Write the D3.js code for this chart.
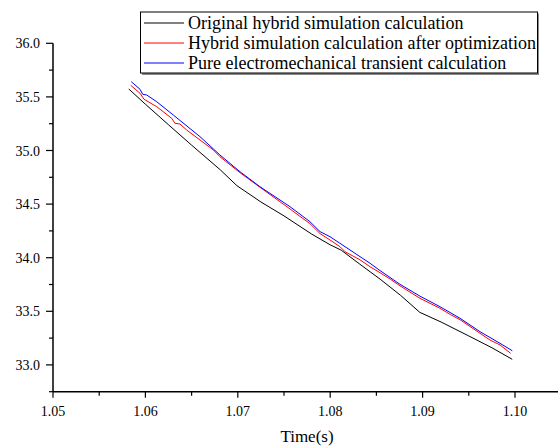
<!DOCTYPE html>
<html><head><meta charset="utf-8">
<script src="https://cdn.jsdelivr.net/npm/d3@7"></script>
<style>body{margin:0;background:#fff}svg{display:block}</style>
</head><body><svg id="c" width="558" height="447" font-family="'Liberation Serif', 'Times New Roman', serif"></svg>
<script>
const seriesNames = ["Original hybrid simulation calculation","Hybrid simulation calculation after optimization","Pure electromechanical transient calculation"];
const seriesColors = ["#000000","#ff0000","#0000ff"];
const blackT = [1.0582,1.0600,1.0625,1.0650,1.0681,1.0699,1.0725,1.0750,1.0780,1.0800,1.0812,1.0832,1.0854,1.0876,1.0897,1.0920,1.0950,1.0975,1.0997];
const blackV = [35.574,35.432,35.24,35.05,34.82,34.672,34.52,34.39,34.22,34.12,34.07,33.94,33.80,33.65,33.49,33.40,33.27,33.16,33.052];
const redT = [1.05841,1.05942,1.05985,1.06122,1.06285,1.06320,1.06374,1.06447,1.06591,1.06735,1.06807,1.07024,1.07240,1.07457,1.07565,1.07673,1.07781,1.07890,1.07998,1.08106,1.08160,1.08323,1.08431,1.08539,1.08650,1.08755,1.08972,1.09188,1.09300,1.09405,1.09621,1.09729,1.09838,1.09953];
const redV = [35.608,35.534,35.478,35.409,35.300,35.254,35.247,35.191,35.098,35.005,34.942,34.793,34.657,34.522,34.455,34.385,34.318,34.225,34.165,34.103,34.056,33.980,33.916,33.860,33.800,33.738,33.621,33.528,33.470,33.422,33.295,33.232,33.186,33.108];
const blueT = [1.05847,1.05942,1.05971,1.06014,1.06122,1.06302,1.06591,1.06807,1.07024,1.07240,1.07457,1.07565,1.07781,1.07890,1.07998,1.08214,1.08431,1.08539,1.08755,1.08972,1.09188,1.09405,1.09621,1.09838,1.09971];
const blueV = [35.642,35.571,35.524,35.518,35.455,35.331,35.129,34.958,34.802,34.662,34.538,34.476,34.336,34.243,34.196,34.072,33.948,33.880,33.752,33.641,33.543,33.435,33.310,33.201,33.132];
const xTicks = [1.05,1.06,1.07,1.08,1.09,1.10];
const yTicks = [33.0,33.5,34.0,34.5,35.0,35.5,36.0];
const xLabel = "Time(s)";

const svg = d3.select("#c");
const x = d3.scaleLinear().domain([1.05,1.1]).range([53,515]);
const y = d3.scaleLinear().domain([32.75,36.0]).range([391.7,43.3]);
const xEnd = 1.1049;

const series = [[blackT,blackV],[redT,redV],[blueT,blueV]];
const line = d3.line().x(d=>x(d[0])).y(d=>y(d[1]));
series.forEach((s,i)=>{
  const pts = s[0].map((t,j)=>[t,s[1][j]]);
  svg.append("path").attr("d",line(pts)).attr("fill","none").attr("stroke",seriesColors[i]).attr("stroke-width",1);
});

const xAxisG = svg.append("g").attr("transform",`translate(0,${y(32.75)})`);
xAxisG.append("line").attr("x1",x(1.05)).attr("x2",x(xEnd)).attr("stroke","#000").attr("stroke-width",1.5);
d3.range(1.05,1.1049,0.005).forEach(v=>{
  const major = Math.abs(Math.round(v*100)-v*100)<1e-6;
  xAxisG.append("line").attr("x1",x(v)).attr("x2",x(v)).attr("y1",0).attr("y2",major?6:4).attr("stroke","#000").attr("stroke-width",1.2);
});
xTicks.forEach(v=>{
  xAxisG.append("text").attr("x",x(v)).attr("y",24).attr("text-anchor","middle").attr("font-size",14).attr("fill","#000").text(d3.format(".2f")(v));
});
const yAxisG = svg.append("g").attr("transform",`translate(${x(1.05)},0)`);
yAxisG.append("line").attr("y1",y(32.75)).attr("y2",y(36.0)).attr("stroke","#000").attr("stroke-width",1.5);
d3.range(32.75,36.01,0.25).forEach(v=>{
  const major = Math.abs(v*2-Math.round(v*2))<1e-6;
  yAxisG.append("line").attr("x1",0).attr("x2",major?-7:-4).attr("y1",y(v)).attr("y2",y(v)).attr("stroke","#000").attr("stroke-width",1.2);
});
yTicks.forEach(v=>{
  yAxisG.append("text").attr("x",-13).attr("y",y(v)+5).attr("text-anchor","end").attr("font-size",14).attr("fill","#000").text(d3.format(".1f")(v));
});
svg.append("text").attr("x",307).attr("y",442).attr("text-anchor","middle").attr("font-size",17).attr("fill","#000").text(xLabel);

const lg = svg.append("g");
lg.append("rect").attr("x",142).attr("y",13.5).attr("width",397).attr("height",61.5).attr("fill","#888");
lg.append("rect").attr("x",140.5).attr("y",12).attr("width",397).attr("height",61).attr("fill","#fff").attr("stroke","#000").attr("stroke-width",1);
seriesNames.forEach((n,i)=>{
  const cy = 23 + i*20;
  lg.append("line").attr("x1",144).attr("x2",184).attr("y1",cy).attr("y2",cy).attr("stroke",seriesColors[i]).attr("stroke-width",1);
  lg.append("text").attr("x",188).attr("y",cy+6).attr("font-size",18).attr("fill","#000").text(n);
});
</script></body></html>
